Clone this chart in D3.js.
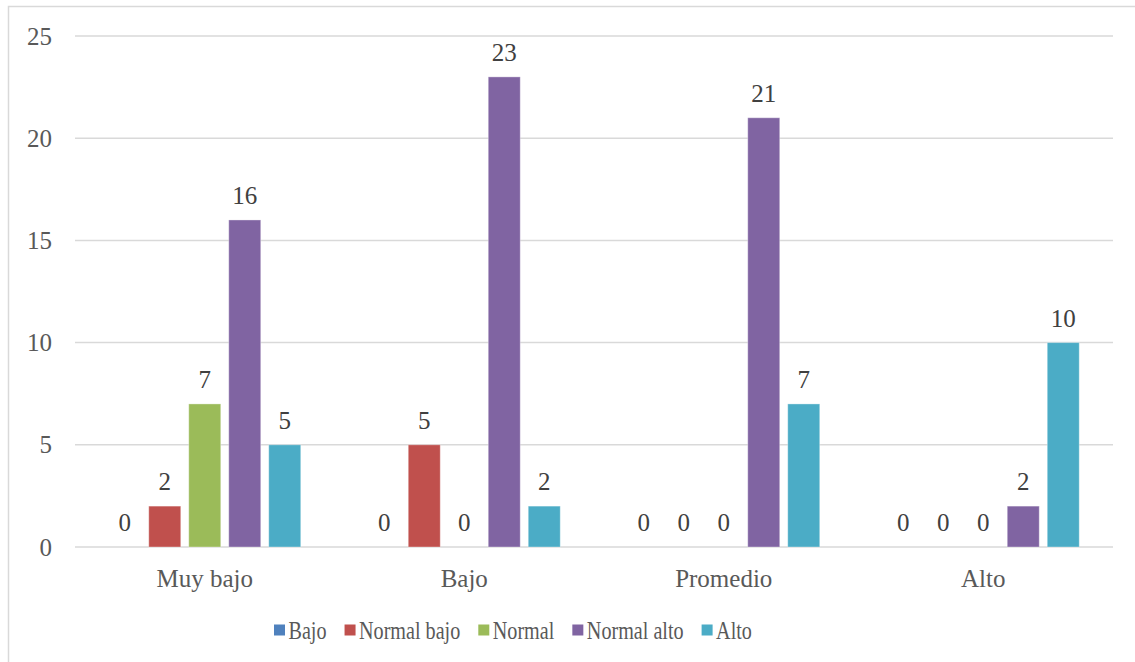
<!DOCTYPE html>
<html>
<head>
<meta charset="utf-8">
<script src="https://cdn.jsdelivr.net/npm/d3@7"></script>
<style>
  html, body { margin: 0; padding: 0; background: #fff; }
  svg { display: block; }
  text { font-family: "Liberation Serif", "Times New Roman", serif; }
</style>
</head>
<body>
<svg id="chart" width="1135" height="662"></svg>
<script>
// Categories along the x axis
const categories = ["Muy bajo", "Bajo", "Promedio", "Alto"];
// Series names (legend order)
const seriesNames = ["Bajo", "Normal bajo", "Normal", "Normal alto", "Alto"];
// Counts per series, one value per category
const valBajo       = [0, 0, 0, 0];
const valNormalBajo = [2, 5, 0, 0];
const valNormal     = [7, 0, 0, 0];
const valNormalAlto = [16, 23, 21, 2];
const valAlto       = [5, 2, 7, 10];
const seriesColors  = ["#4F81BD", "#C0504D", "#9BBB59", "#8064A2", "#4BACC6"];
const yTicks = [0, 5, 10, 15, 20, 25];

const seriesValues = [valBajo, valNormalBajo, valNormal, valNormalAlto, valAlto];

const svg = d3.select("#chart");
const W = 1135, H = 662;

// chart frame
svg.append("path")
  .attr("d", `M8.5,${H} V6.5 H${W}`)
  .attr("fill", "none").attr("stroke", "#d9d9d9").attr("stroke-width", 1.5);

const plot = { left: 75, right: 1113, top: 36, bottom: 547 };

const x0 = d3.scaleBand().domain(categories).range([plot.left, plot.right]).paddingInner(0).paddingOuter(0);
const x1 = d3.scaleBand().domain(seriesNames).range([0, x0.bandwidth()]).paddingInner(0.2).paddingOuter(0.844);
const y = d3.scaleLinear().domain([0, 25]).range([plot.bottom, plot.top]);

// horizontal gridlines
svg.append("g").selectAll("line").data(yTicks).join("line")
  .attr("x1", plot.left).attr("x2", plot.right)
  .attr("y1", d => y(d)).attr("y2", d => y(d))
  .attr("stroke", "#d9d9d9").attr("stroke-width", 1.5);

// y tick labels
svg.append("g").selectAll("text").data(yTicks).join("text")
  .attr("x", 52).attr("y", d => y(d) + 8.5)
  .attr("text-anchor", "end")
  .attr("font-size", 25).attr("fill", "#595959")
  .text(d => d);

// bars
const groups = svg.append("g").selectAll("g").data(categories).join("g")
  .attr("transform", c => `translate(${x0(c)},0)`);

groups.each(function(c, ci) {
  const g = d3.select(this);
  const rows = seriesNames.map((s, si) => ({ s, si, v: seriesValues[si][ci] }));
  g.selectAll("rect").data(rows.filter(r => r.v > 0)).join("rect")
    .attr("x", r => x1(r.s)).attr("width", x1.bandwidth())
    .attr("y", r => y(r.v)).attr("height", r => y(0) - y(r.v))
    .attr("fill", r => seriesColors[r.si])
    .attr("stroke", "#ffffff").attr("stroke-opacity", 0.35).attr("stroke-width", 1);
  g.selectAll("text").data(rows).join("text")
    .attr("x", r => x1(r.s) + x1.bandwidth() / 2)
    .attr("y", r => y(r.v) - 16)
    .attr("text-anchor", "middle")
    .attr("font-size", 25).attr("fill", "#404040")
    .text(r => r.v);
});

// category labels
svg.append("g").selectAll("text").data(categories).join("text")
  .attr("x", c => x0(c) + x0.bandwidth() / 2)
  .attr("y", 587)
  .attr("text-anchor", "middle")
  .attr("font-size", 25).attr("fill", "#595959")
  .text(c => c);

// legend
const legend = svg.append("g");
const sx = 0.775, sw = 11, gapAfterSwatch = 3.5, itemGap = 18;
const items = legend.selectAll("g").data(seriesNames).join("g");
items.append("rect").attr("width", sw).attr("height", sw).attr("y", -5.5)
  .attr("fill", (d, i) => seriesColors[i]);
items.append("text").attr("x", sw + gapAfterSwatch).attr("y", 8.5)
  .attr("font-size", 26).attr("fill", "#595959")
  .attr("transform", `scale(${sx},1)`)
  .attr("transform-origin", `${sw + gapAfterSwatch} 0`)
  .text(d => d);
let cursor = 0;
const offsets = [];
items.each(function() {
  const t = d3.select(this).select("text").node();
  const w = sw + gapAfterSwatch + t.getComputedTextLength() * sx;
  offsets.push(cursor);
  cursor += w + itemGap;
});
const startX = 274;
items.attr("transform", (d, i) => `translate(${startX + offsets[i]},630)`);
</script>
</body>
</html>
